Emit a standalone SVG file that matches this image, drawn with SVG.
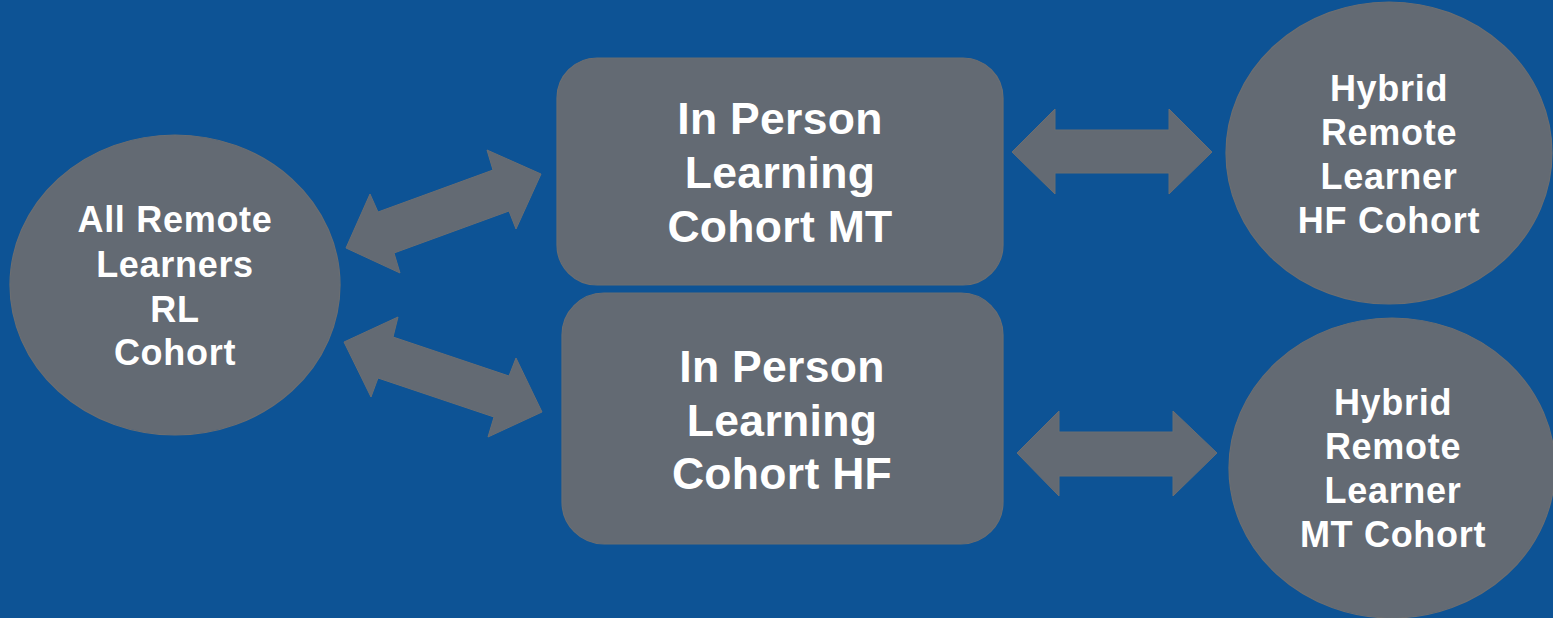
<svg xmlns="http://www.w3.org/2000/svg" width="1553" height="618" viewBox="0 0 1553 618">
<style>
.shape{fill:#636a73;stroke:#6b6e72;stroke-width:1.2}
.conn{fill:#636a73;stroke:#6b6e72;stroke-width:1}
.lbl{font-family:"Liberation Sans",Arial,sans-serif;font-weight:bold;fill:#ffffff;text-anchor:middle}
.s{font-size:36px;letter-spacing:0.7px}
.b{font-size:44.5px;letter-spacing:0.3px}
</style>
<rect x="0" y="0" width="1553" height="618" fill="#0d5395"/>
<g id="connectors">
<polygon class="conn" points="346,248 370,194 378,212 493,170 487,150 541,174 516,229 509,211 394,253 400,273"/>
<polygon class="conn" points="344,342 398,317 393,337 509,376 516,358 542,412 488,437 494,417 378,378 371,397"/>
<polygon class="conn" points="1012,152 1055,109 1055,130 1169,130 1169,109 1212,152 1169,194 1169,173 1055,173 1055,194"/>
<polygon class="conn" points="1017,453 1059,411 1059,432 1173,432 1173,411 1217,453 1173,496 1173,476 1059,476 1059,496"/>
</g>
<g id="node-rl">
<ellipse class="shape" cx="175" cy="285" rx="165" ry="150"/>
<text class="lbl s"><tspan x="175" y="232">All Remote</tspan><tspan x="175" y="277">Learners</tspan><tspan x="175" y="322">RL</tspan><tspan x="175" y="365">Cohort</tspan></text>
</g>
<g id="node-ip-mt">
<rect class="shape" x="557" y="58" width="446" height="227" rx="40" ry="40"/>
<text class="lbl b"><tspan x="780" y="134">In Person</tspan><tspan x="780" y="188">Learning</tspan><tspan x="780" y="242">Cohort MT</tspan></text>
</g>
<g id="node-ip-hf">
<rect class="shape" x="562" y="293" width="441" height="251" rx="42" ry="42"/>
<text class="lbl b"><tspan x="782" y="382">In Person</tspan><tspan x="782" y="436">Learning</tspan><tspan x="782" y="489">Cohort HF</tspan></text>
</g>
<g id="node-hybrid-hf">
<ellipse class="shape" cx="1389" cy="153" rx="163" ry="151"/>
<text class="lbl s"><tspan x="1389" y="101">Hybrid</tspan><tspan x="1389" y="145">Remote</tspan><tspan x="1389" y="189">Learner</tspan><tspan x="1389" y="233">HF Cohort</tspan></text>
</g>
<g id="node-hybrid-mt">
<ellipse class="shape" cx="1392" cy="468" rx="163" ry="150"/>
<text class="lbl s"><tspan x="1393" y="415">Hybrid</tspan><tspan x="1393" y="459">Remote</tspan><tspan x="1393" y="503">Learner</tspan><tspan x="1393" y="547">MT Cohort</tspan></text>
</g>
</svg>
